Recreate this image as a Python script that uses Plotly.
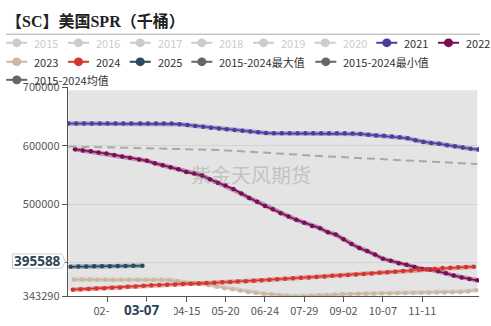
import pandas as pd
import plotly.graph_objects as go

W, H = 491, 326


def week_index(dates):
    """Position of each date on a 366-day MM-DD category axis (01-01 -> 0)."""
    return [(pd.Timestamp(2024, t.month, t.day) - pd.Timestamp(2024, 1, 1)).days for t in dates]


# ---- categories -------------------------------------------------------------
dates_2021 = pd.date_range("2021-01-01", "2021-12-31", freq="W-FRI")
dates_2022 = pd.date_range("2022-01-01", "2022-12-31", freq="W-FRI")
dates_2023 = pd.date_range("2023-01-01", "2023-12-31", freq="W-FRI")
dates_2024 = pd.date_range("2024-01-01", "2024-12-31", freq="W-FRI")
dates_2025 = pd.date_range("2025-01-01", "2025-03-07", freq="W-FRI")
dates_hist = pd.date_range("2024-01-01", periods=53, freq="7D")

tick_pos = [35, 70, 105, 140, 175, 210, 245, 280, 315]
tick_text = ["02-05", "03-11", "04-15", "05-20", "06-24", "07-29", "09-02", "10-07", "11-11"]
y_ticks = [343290, 400000, 500000, 600000, 700000]

# ---- series values (thousand barrels) ----------------------------------------
spr_2021 = [638086] * 14 + [
    637000, 635500, 634000, 632500, 631000, 629500, 628200, 627000, 625600, 624300, 623000, 621800,
    621300, 621300, 621300, 621300, 621300, 621300, 621300, 621300, 621300, 621300,
    621000, 620200, 619000, 617800, 617300, 616000, 614800, 613000, 609500, 606500,
    604800, 603500, 601000, 599200, 597000, 595000, 593700,
]
spr_2022 = [
    594100, 591900, 590900, 588600, 587000, 584400, 581600, 579500, 576700, 574600,
    570200, 566900, 563600, 559900, 555500, 552800, 549500, 543000, 537100, 532200,
    526200, 518500, 511100, 504500, 497400, 491500, 485000, 479500, 473600, 468700,
    463200, 459400, 452400, 448500, 440400, 432200, 425700, 420300, 414300, 407300,
    403600, 399700, 397000, 393100, 389900, 388900, 386100, 382400, 378500, 375200,
    372600, 370300,
]
spr_2023 = [
    371600, 371600, 371600, 371500, 371500, 371400, 371400, 371300, 371300, 371200,
    371200, 371200, 371000, 369000, 366800, 365600, 364400, 362200, 359500, 356800,
    355000, 352800, 350500, 349000, 347500, 346200, 345000, 343800, 343290, 343400,
    344000, 344800, 345500, 346300, 346800, 347000, 347300, 347600, 347900, 348100,
    348400, 348600, 348800, 349000, 349100, 349300, 349500, 349700, 350000, 350600,
    351800, 353600,
]
spr_2024 = [
    354400, 355000, 355700, 356300, 357000, 357600, 358200, 359200, 360000, 360900,
    361900, 362300, 363000, 363400, 363900, 364400, 365000, 365700, 366300, 367000,
    367600, 368200, 368900, 369600, 370500, 371400, 372300, 373000, 373800, 374600,
    375300, 375900, 377000, 378000, 378800, 379600, 380400, 381200, 382200, 383200,
    384200, 385200, 386200, 387200, 388300, 389300, 390300, 391200, 391900, 392500,
    393100, 393600,
]
spr_2025 = [393600, 393800, 394000, 394200, 394400, 394600, 394800, 395000, 395200, 395300]

hist_max = [
    695100, 695100, 695100, 695100, 695100, 695100, 695100, 695100, 695100, 695100,
    695100, 695100, 695100, 695100, 695100, 695100, 695100, 695100, 695100, 695100,
    695100, 695100, 695100, 695100, 695100, 695100, 695100, 695100, 695100, 695100,
    695100, 695100, 695100, 695100, 695100, 695100, 695100, 695100, 695100, 695100,
    695100, 695100, 695100, 695100, 695100, 695100, 695100, 695100, 695100, 695100,
    695100, 695100, 695100,
]
hist_min = [
    354000, 354600, 355300, 356000, 356600, 357300, 357900, 358700, 359600, 360400,
    361400, 362100, 362600, 363200, 363600, 364100, 364400, 364400, 362200, 359500,
    356800, 355000, 352800, 350500, 349000, 347500, 346200, 345000, 343800, 343290,
    343400, 344000, 344800, 345500, 346300, 346800, 347000, 347300, 347600, 347900,
    348100, 348400, 348600, 348800, 349000, 349100, 349300, 349500, 349700, 350000,
    350600, 351800, 353600,
]
hist_mean = [
    599000, 598700, 598400, 598100, 597900, 597600, 597400, 597100, 596900, 596700,
    596500, 596300, 596000, 595700, 595300, 594900, 594400, 594000, 593500, 592900,
    592200, 591300, 590900, 590000, 589200, 588300, 587300, 586500, 585800, 585200,
    584400, 583600, 582800, 581900, 581200, 580500, 579900, 579000, 577800, 577000,
    576600, 576200, 575600, 575000, 574500, 573900, 573000, 572000, 571300, 570600,
    570000, 569400, 569000,
]

# ---- styling -------------------------------------------------------------------
C2021, C2022, C2023, C2024, C2025 = "#4a3d9b", "#7b0c57", "#c9b8a2", "#d2362e", "#2c4a5e"
C_STAT, C_OFF = "#666666", "#cccccc"
FONT = "Noto Sans CJK SC, Noto Sans, sans-serif"

PLOT_L, PLOT_R, PLOT_T, PLOT_B = 67.7, 479.0, 82.3, 302.0


def px(x):
    return x / W


def py(y):
    return 1 - y / H


def rgba(hex_color, a):
    h = hex_color.lstrip("#")
    return "rgba(%d,%d,%d,%.2f)" % (int(h[0:2], 16), int(h[2:4], 16), int(h[4:6], 16), a)


fig = go.Figure()

# 2015-2024 max/min envelope
x_hist = week_index(dates_hist)
fig.add_trace(go.Scatter(x=x_hist, y=hist_min, mode="lines", line=dict(width=0), hoverinfo="skip"))
fig.add_trace(go.Scatter(x=x_hist, y=hist_max, mode="lines", line=dict(width=0),
                         fill="tonexty", fillcolor="rgba(0,0,0,0.105)", hoverinfo="skip"))

series = [
    ("2021", dates_2021, spr_2021, C2021),
    ("2022", dates_2022, spr_2022, C2022),
    ("2023", dates_2023, spr_2023, C2023),
    ("2024", dates_2024, spr_2024, C2024),
    ("2025", dates_2025, spr_2025, C2025),
]
for name, dates, vals, color in series:
    xs = week_index(dates)
    fig.add_trace(go.Scatter(x=xs, y=vals, mode="lines", line=dict(color=rgba(color, 0.4), width=4.5),
                             hoverinfo="skip"))
    fig.add_trace(go.Scatter(x=xs, y=vals, mode="lines+markers", name=name,
                             line=dict(color=color, width=1.6), marker=dict(color=color, size=4.5)))

fig.add_trace(go.Scatter(x=x_hist, y=hist_mean, mode="lines", name="2015-2024均值",
                         line=dict(color="#a8a8a8", width=2, dash="8px,5px")))

shapes = []
annotations = []


def label(text, x, y, size, color, family=FONT, xanchor="left"):
    annotations.append(dict(text=text, x=px(x), y=py(y), xref="paper", yref="paper",
                            xanchor=xanchor, yanchor="middle", showarrow=False,
                            font=dict(family=family, size=size, color=color)))


# title and divider
label("<b>【SC】美国SPR（千桶）</b>", 4, 13, 16, "#222", family="Liberation Serif, Noto Sans CJK SC, serif")
shapes.append(dict(type="line", xref="paper", yref="paper", x0=px(6), x1=px(480), y0=py(26.5), y1=py(26.5),
                   line=dict(color="#aaaaaa", width=1)))

# legend
legend_items = [
    ("2015", C_OFF, False, 33.3, 35.5), ("2016", C_OFF, False, 95.0, 35.5),
    ("2017", C_OFF, False, 156.7, 35.5), ("2018", C_OFF, False, 218.3, 35.5),
    ("2019", C_OFF, False, 280.0, 35.5), ("2020", C_OFF, False, 341.7, 35.5),
    ("2021", C2021, True, 403.3, 35.5), ("2022", C2022, True, 465.0, 35.5),
    ("2023", C2023, True, 33.3, 55.5), ("2024", C2024, True, 95.0, 55.5),
    ("2025", C2025, True, 156.7, 55.5), ("2015-2024最大值", C_STAT, True, 218.3, 55.5),
    ("2015-2024最小值", C_STAT, True, 342.3, 55.5), ("2015-2024均值", C_STAT, True, 33.3, 74.5),
]
for text, color, active, tx, ty in legend_items:
    cx = tx - 16.5
    shapes.append(dict(type="line", xref="paper", yref="paper", x0=px(cx - 10.5), x1=px(cx + 10.5),
                       y0=py(ty), y1=py(ty), line=dict(color=color, width=2)))
    shapes.append(dict(type="circle", xref="paper", yref="paper", x0=px(cx - 4.6), x1=px(cx + 4.6),
                       y0=py(ty + 4.6), y1=py(ty - 4.6), fillcolor=color, line=dict(width=0)))
    label(text, tx - 1, ty, 11, "#333" if active else C_OFF)

# watermark
label("紫金天风期货", 251, 174, 20, "rgba(110,110,110,0.3)", xanchor="center")

# axis pointer labels
box_path = "M {0},{1} L {2},{1} L {3},{4} L {2},{5} L {0},{5} Z".format(
    px(12.5), py(257.5), px(61.5), px(65.5), py(265.2), py(272.8))
shapes.append(dict(type="path", xref="paper", yref="paper", path=box_path, fillcolor="white",
                   line=dict(color="#cfcfcf", width=1), layer="above"))
label("<b>395588</b>", 37.5, 265.2, 13.5, "#2e4459", family="Noto Sans, sans-serif", xanchor="center")
shapes.append(dict(type="rect", xref="paper", yref="paper", x0=px(109.5), x1=px(174), y0=py(307.5), y1=py(326),
                   fillcolor="white", line=dict(width=0), layer="above"))
label("<b>03-07</b>", 141.5, 317, 13.5, "#2e4459", family="Noto Sans, sans-serif", xanchor="center")

fig.update_layout(
    width=W, height=H,
    margin=dict(l=0, r=0, t=0, b=0, pad=0),
    paper_bgcolor="white", plot_bgcolor="white",
    showlegend=False,
    shapes=shapes, annotations=annotations,
    xaxis=dict(domain=[PLOT_L / W, PLOT_R / W], range=[-0.5, 365.5],
               tickmode="array", tickvals=tick_pos, ticktext=tick_text,
               showline=True, linecolor="#555", linewidth=1, ticks="outside", ticklen=5,
               tickcolor="#555", showgrid=False, zeroline=False,
               tickfont=dict(family=FONT, size=11, color="#555")),
    yaxis=dict(domain=[1 - PLOT_B / H, 1 - PLOT_T / H], range=[343290, 700000],
               tickmode="array", tickvals=y_ticks, ticktext=[str(v) for v in y_ticks],
               showline=True, linecolor="#555", linewidth=1, ticks="outside", ticklen=5,
               tickcolor="#555", showgrid=True, gridcolor="#ececec", zeroline=False,
               tickfont=dict(family=FONT, size=11, color="#555")),
)

fig.write_html("out.html")
